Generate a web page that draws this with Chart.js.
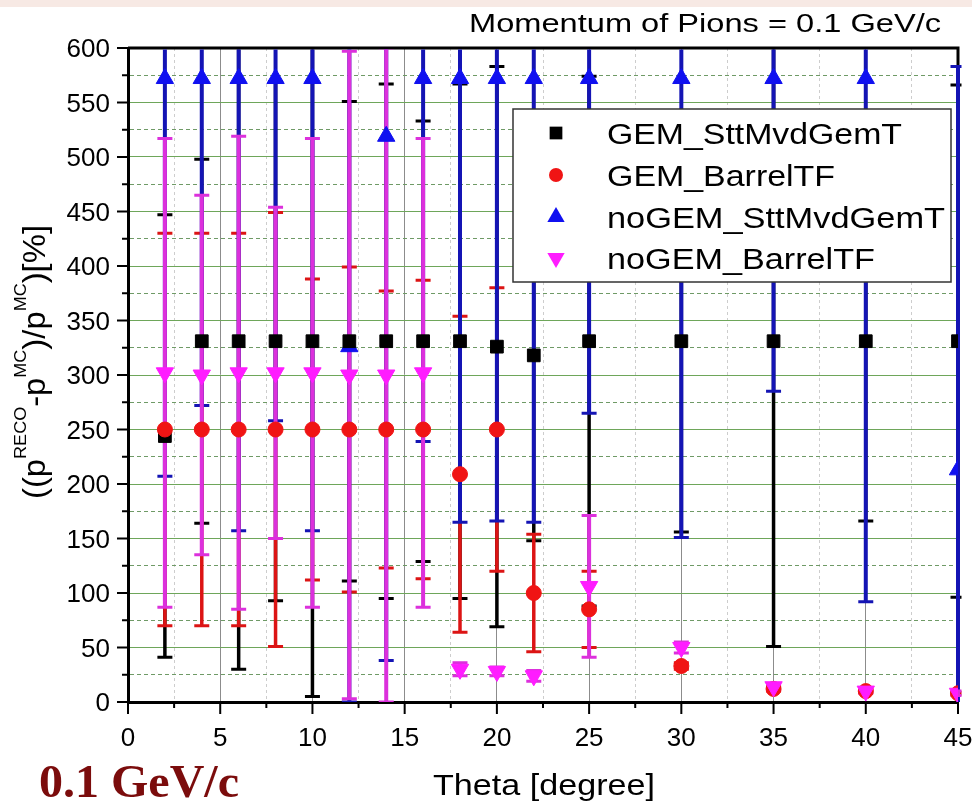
<!DOCTYPE html>
<html><head><meta charset="utf-8">
<script src="https://cdn.jsdelivr.net/npm/chart.js@4.4.0/dist/chart.umd.min.js"></script>
<style>html,body{margin:0;padding:0;background:#fff;}canvas{display:block;}</style>
</head><body>
<canvas id="c" width="972" height="806"></canvas>
<script>
// ---- data ----
const theta = [2, 4, 6, 8, 10, 12, 14, 16, 18, 20, 22, 25, 30, 35, 40, 45];
const gemStt        = [244, 331, 331, 331, 331, 331, 331, 331, 331, 326, 318, 331, 331, 331, 331, 331];
const gemSttErr     = [203, 167, 301, 238, 326, 220, 236, 202, 236, 257, 170, 243, 175, 280, 165, 235];
const gemBarrel     = [250, 250, 250, 250, 250, 250, 250, 250, 209, 250, 100, 85, 33, 12, 10, 8];
const gemBarrelErr  = [180, 180, 180, 199, 138, 149, 127, 137, 145, 130, 54, 35, 3, 2, 1, 1];
const noGemStt      = [572, 572, 572, 572, 572, 326, 519, 572, 572, 572, 572, 572, 572, 572, 572, 213];
const noGemSttErr   = [365, 300, 415, 314, 415, 326, 481, 333, 407, 406, 407, 307, 421, 287, 480, 370];
const noGemBarrel   = [302, 300, 302, 302, 302, 300, 300, 302, 30, 28, 24, 106, 50, 14, 10, 8];
const noGemBarrelErr= [215, 165, 217, 152, 215, 297, 300, 215, 6, 4, 5, 65, 5, 3, 2, 2];
const seriesNames = ['GEM_SttMvdGemT', 'GEM_BarrelTF', 'noGEM_SttMvdGemT', 'noGEM_BarrelTF'];
const yTickLabels = ['0','50','100','150','200','250','300','350','400','450','500','550','600'];
const xTickLabels = ['0','5','10','15','20','25','30','35','40','45'];
const chartTitle = 'Momentum of Pions = 0.1 GeV/c';
const xTitle = 'Theta [degree]';
const cornerNote = '0.1 GeV/c';

// ---- styles ----
const styles = [
  {marker:'#000000', bar:'#000000', shape:'rect', radius:9, rotation:0, order:2, barW:3.5},
  {marker:'#f01414', bar:'#dc1414', shape:'circle', radius:7.5, rotation:0, order:1, barW:3.5},
  {marker:'#1010f0', bar:'#1414b4', shape:'triangle', radius:10, rotation:0, order:3, barW:4},
  {marker:'#ff1cff', bar:'#dc30dc', shape:'triangle', radius:10, rotation:180, order:0, barW:4}
];
const values = [gemStt, gemBarrel, noGemStt, noGemBarrel];
const errors = [gemSttErr, gemBarrelErr, noGemSttErr, noGemBarrelErr];

const datasets = seriesNames.map((name, i) => ({
  label: name,
  data: theta.map((t, k) => ({x: t, y: values[i][k]})),
  pointStyle: styles[i].shape,
  pointRadius: styles[i].radius,
  pointRotation: styles[i].rotation,
  pointBackgroundColor: styles[i].marker,
  pointBorderColor: styles[i].marker,
  pointBorderWidth: 1,
  showLine: false,
  order: styles[i].order,
  clip: 0
}));

const near = (v, m) => Math.abs(v / m - Math.round(v / m)) < 1e-6;

function fitText(ctx, text, x, y, font, color, width, align) {
  ctx.save();
  ctx.font = font; ctx.fillStyle = color; ctx.textBaseline = 'alphabetic'; ctx.textAlign = 'left';
  const w = ctx.measureText(text).width;
  const sx = width ? width / w : 1;
  const left = align === 'right' ? x - w * sx : (align === 'center' ? x - w * sx / 2 : x);
  ctx.translate(left, y); ctx.scale(sx, 1);
  ctx.fillText(text, 0, 0);
  ctx.restore();
}

function drawMarker(ctx, st, x, y) {
  ctx.save();
  ctx.fillStyle = st.marker;
  ctx.beginPath();
  if (st.shape === 'rect') {
    const s = st.radius * Math.SQRT1_2;
    ctx.rect(x - s, y - s, 2 * s, 2 * s);
  } else if (st.shape === 'circle') {
    ctx.arc(x, y, st.radius, 0, Math.PI * 2);
  } else {
    const r = st.radius, dir = st.rotation === 180 ? -1 : 1;
    ctx.moveTo(x, y - dir * r);
    ctx.lineTo(x - r * 0.866, y + dir * r / 2);
    ctx.lineTo(x + r * 0.866, y + dir * r / 2);
    ctx.closePath();
  }
  ctx.fill();
  ctx.restore();
}

const bgPlugin = {
  id: 'bg',
  beforeDraw(chart) {
    const ctx = chart.ctx;
    ctx.save();
    ctx.fillStyle = '#ffffff'; ctx.fillRect(0, 0, chart.width, chart.height);
    ctx.fillStyle = '#f7e9e4'; ctx.fillRect(0, 0, chart.width, 7);
    ctx.restore();
  }
};

const errorBarPlugin = {
  id: 'errorBars',
  beforeDatasetsDraw(chart) {
    const ctx = chart.ctx, a = chart.chartArea;
    const xs = chart.scales.x, ys = chart.scales.y;
    ctx.save();
    ctx.strokeStyle = '#000'; ctx.lineWidth = 3;
    ctx.beginPath(); ctx.moveTo(a.left, a.top); ctx.lineTo(a.right, a.top); ctx.lineTo(a.right, a.bottom); ctx.stroke();
    ctx.beginPath();
    ctx.rect(a.left + 1.5, a.top + 1.5, a.right - a.left + 2, a.bottom - a.top - 1.5);
    ctx.clip();
    for (let i = 0; i < values.length; i++) {
      const st = styles[i];
      ctx.strokeStyle = st.bar;
      for (let k = 0; k < theta.length; k++) {
        const px = xs.getPixelForValue(theta[k]);
        const yT = ys.getPixelForValue(values[i][k] + errors[i][k]);
        const yB = ys.getPixelForValue(values[i][k] - errors[i][k]);
        ctx.lineWidth = st.barW;
        ctx.beginPath(); ctx.moveTo(px, yT); ctx.lineTo(px, yB); ctx.stroke();
        ctx.lineWidth = 3;
        ctx.beginPath();
        ctx.moveTo(px - 7.5, yT); ctx.lineTo(px + 7.5, yT);
        ctx.moveTo(px - 7.5, yB); ctx.lineTo(px + 7.5, yB);
        ctx.stroke();
      }
    }
    ctx.restore();
  }
};

const decoPlugin = {
  id: 'deco',
  afterDraw(chart) {
    const ctx = chart.ctx, a = chart.chartArea;
    const xs = chart.scales.x, ys = chart.scales.y;
    ctx.save();
    ctx.strokeStyle = '#000'; ctx.lineWidth = 2;
    ys.ticks.forEach(t => {
      const py = ys.getPixelForValue(t.value), len = near(t.value, 50) ? 11 : 6;
      ctx.beginPath(); ctx.moveTo(a.left - len, py); ctx.lineTo(a.left, py); ctx.stroke();
    });
    xs.ticks.forEach(t => {
      const px = xs.getPixelForValue(t.value), len = near(t.value, 5) ? 12 : 6;
      ctx.beginPath(); ctx.moveTo(px, a.bottom); ctx.lineTo(px, a.bottom + len); ctx.stroke();
    });
    const tickFont = '26px "Liberation Sans", Arial, sans-serif';
    yTickLabels.forEach(lbl => {
      const py = ys.getPixelForValue(Number(lbl));
      fitText(ctx, lbl, 110, py + 9.3, tickFont, '#000', 0, 'right');
    });
    xTickLabels.forEach(lbl => {
      const px = xs.getPixelForValue(Number(lbl));
      fitText(ctx, lbl, px, 746, tickFont, '#000', 0, 'center');
    });
    fitText(ctx, chartTitle, 941, 32, '26px "Liberation Sans", Arial, sans-serif', '#000', 472, 'right');
    fitText(ctx, xTitle, 433, 795, '29px "Liberation Sans", Arial, sans-serif', '#000', 222, 'left');
    fitText(ctx, cornerNote, 39, 797, 'bold 46px "Liberation Serif", "Times New Roman", serif', '#7b0c0c', 200, 'left');
    const segs = [
      {t:'((p', sup:false}, {t:'RECO', sup:true}, {t:'-p', sup:false}, {t:'MC', sup:true},
      {t:')/p', sup:false}, {t:'MC', sup:true}, {t:')[%]', sup:false}
    ];
    const mainF = '31px "Liberation Sans", Arial, sans-serif', supF = '17px "Liberation Sans", Arial, sans-serif';
    let total = 0;
    segs.forEach(s => { ctx.font = s.sup ? supF : mainF; s.w = ctx.measureText(s.t).width; total += s.w; });
    ctx.save();
    ctx.translate(45, 362); ctx.rotate(-Math.PI / 2); ctx.scale(274 / total, 1);
    ctx.fillStyle = '#000'; ctx.textBaseline = 'alphabetic'; ctx.textAlign = 'left';
    let cx = -total / 2;
    segs.forEach(s => { ctx.font = s.sup ? supF : mainF; ctx.fillText(s.t, cx, s.sup ? -19 : 0); cx += s.w; });
    ctx.restore();
    ctx.fillStyle = '#fff'; ctx.strokeStyle = '#333'; ctx.lineWidth = 1.5;
    ctx.fillRect(513, 109, 438, 173); ctx.strokeRect(513, 109, 438, 173);
    const rows = [133, 175, 217, 258];
    const legW = [295, 228, 338, 268];
    seriesNames.forEach((name, i) => {
      const st = Object.assign({}, styles[i]);
      if (st.shape === 'circle') st.radius = 7;
      drawMarker(ctx, st, 556, rows[i]);
      fitText(ctx, name, 607, rows[i] + 10.7, '30px "Liberation Sans", Arial, sans-serif', '#000', legW[i], 'left');
    });
    ctx.restore();
  }
};

new Chart(document.getElementById('c'), {
  type: 'scatter',
  data: { datasets },
  options: {
    responsive: false, animation: false, devicePixelRatio: 1, events: [],
    layout: { padding: { top: 48, right: 14, left: 0, bottom: 0 } },
    plugins: { legend: { display: false }, tooltip: { enabled: false }, title: { display: false } },
    scales: {
      x: {
        type: 'linear', min: 0, max: 45,
        ticks: { stepSize: 2.5, display: false },
        afterFit: s => { s.height = 104; },
        grid: { color: c => (c.tick && near(c.tick.value, 5)) ? '#8c8c8c' : '#cdcdcd', lineWidth: 1, drawTicks: false },
        border: { display: true, color: '#000', width: 3, dash: c => (c.tick && !near(c.tick.value, 5)) ? [3, 3] : [] }
      },
      y: {
        type: 'linear', min: 0, max: 600,
        ticks: { stepSize: 25, display: false },
        afterFit: s => { s.width = 128; },
        grid: { color: c => (c.tick && near(c.tick.value, 50)) ? '#6ea65a' : '#6f9a66', lineWidth: 1, drawTicks: false },
        border: { display: true, color: '#000', width: 3, dash: c => (c.tick && !near(c.tick.value, 50)) ? [4, 3] : [] }
      }
    }
  },
  plugins: [bgPlugin, errorBarPlugin, decoPlugin]
});
</script>
</body></html>
